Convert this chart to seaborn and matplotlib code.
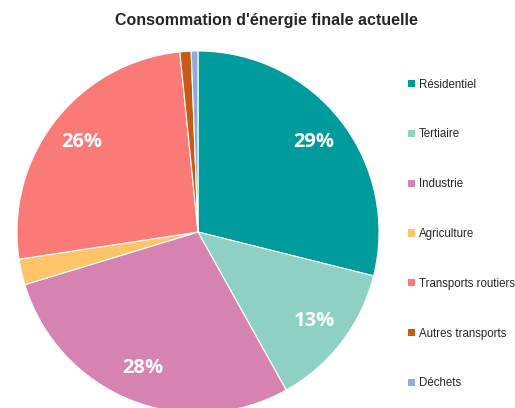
import matplotlib
matplotlib.use("Agg")
import matplotlib.pyplot as plt
import seaborn as sns
from matplotlib.patches import Patch

# --- data ---
categories = ["Résidentiel", "Tertiaire", "Industrie", "Agriculture",
              "Transports routiers", "Autres transports", "Déchets"]
shares = [28.9, 13.0, 28.4, 2.3, 25.8, 1.0, 0.6]
colors = ["#009C9D", "#8FD0C5", "#D783B1", "#FFC468",
          "#F97A76", "#C85A14", "#93A9D8"]
title = "Consommation d'énergie finale actuelle"

sns.set_theme(style="white")
plt.rcParams["font.family"] = ["Liberation Sans", "DejaVu Sans"]
palette = sns.color_palette(colors)

fig = plt.figure(figsize=(5.15, 4.08), dpi=100)
ax = fig.add_axes([17 / 515, (408 - 232 - 181) / 408, 362 / 515, 362 / 408])


def fmt(pct):
    return f"{pct:.0f}%" if pct >= 10 else ""


wedges, texts, autotexts = ax.pie(
    shares, colors=palette, startangle=90, counterclock=False,
    autopct=fmt, pctdistance=0.81,
    wedgeprops=dict(edgecolor="white", linewidth=0.8),
    textprops=dict(color="white", fontsize=14.5, fontweight="bold",
                   family=["Open Sans", "DejaVu Sans"]),
)
ax.set_aspect("equal")
ax.set_xlim(-1, 1)
ax.set_ylim(-1, 1)

fig.text(266 / 515, 1 - 20 / 408, title, ha="center", va="center",
         fontsize=11.5, fontweight="bold")

handles = [Patch(facecolor=c, edgecolor="none") for c in palette]
fig.legend(handles, categories, loc="upper left",
           bbox_to_anchor=(403 / 515, 1 - 74 / 408), frameon=False,
           fontsize=8.3, labelspacing=3.28, handlelength=0.6,
           handleheight=0.6, handletextpad=0.4, borderaxespad=0)

fig.savefig("out.png", dpi=100)
